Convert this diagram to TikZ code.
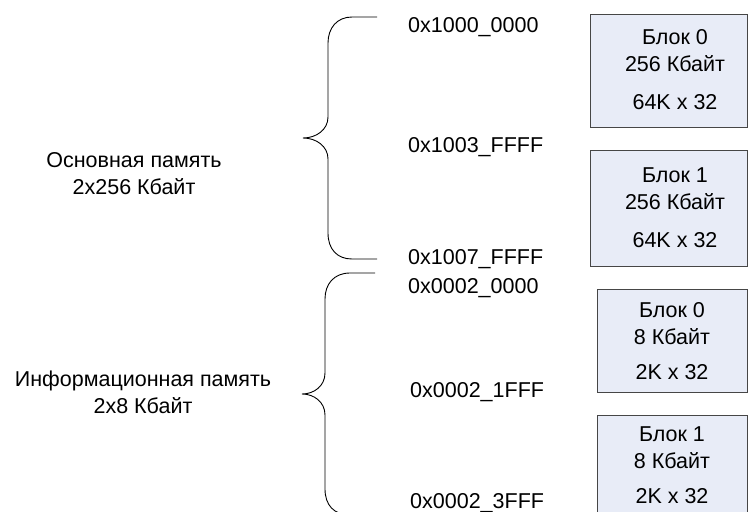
\documentclass[tikz,border=0pt]{standalone}
\usepackage{fontspec}
\setmainfont{Liberation Sans}
\usepackage{xcolor}
\usetikzlibrary{positioning}

\definecolor{blokfill}{RGB}{232,236,247}
\definecolor{blokline}{RGB}{70,70,70}

\begin{document}
\begin{tikzpicture}[x=1pt,y=-1pt,
    every node/.style={font=\fontsize{21.5}{27}\selectfont, inner sep=0pt},
    blok/.style={draw=blokline, fill=blokfill, line width=1pt, anchor=north west},
    bloktxt/.style={align=center, anchor=north},
    adr/.style={anchor=base west},
    oblast/.style={align=center, anchor=north},
    skobka/.style={line width=0.9pt}]
        % Поле рисунка
        \clip (0,0) rectangle (748,512);

        % Блоки основной памяти
        \node[blok, minimum width=157pt, minimum height=113pt] (osn0) at (590,14) {};
        \node[blok, minimum width=157pt, minimum height=116pt] (osn1) at (590,150) {};
        \node[bloktxt] (osn0t) at (675,29) {Блок 0\\256 Кбайт\\[11pt]64K x 32};
        \node[bloktxt] (osn1t) at (675,168) {Блок 1\\256 Кбайт\\[11pt]64K x 32};

        % Блоки информационной памяти
        \node[blok, minimum width=150pt, minimum height=103pt] (inf0) at (597,289) {};
        \node[blok, minimum width=150pt, minimum height=103pt] (inf1) at (597,415) {};
        \node[bloktxt] (inf0t) at (672,302) {Блок 0\\8 Кбайт\\[8pt]2K x 32};
        \node[bloktxt] (inf1t) at (672,427) {Блок 1\\8 Кбайт\\[8pt]2K x 32};

        % Адреса
        \node[adr] (a1) at (408,32) {0x1000\_0000};
        \node[adr] (a2) at (408,152) {0x1003\_FFFF};
        \node[adr] (a3) at (408,264) {0x1007\_FFFF};
        \node[adr] (a4) at (408,293) {0x0002\_0000};
        \node[adr] (a5) at (410,397) {0x0002\_1FFF};
        \node[adr] (a6) at (410,508) {0x0002\_3FFF};

        % Скобки
        \draw[skobka] (377,17) -- (352,17) .. controls (337,17) and (328,28) .. (328,43)
            -- (328,117) .. controls (328,130) and (316,138) .. (303,138)
            .. controls (316,138) and (328,146) .. (328,159)
            -- (328,233) .. controls (328,249) and (337,259) .. (352,259) -- (377,259);
        \draw[skobka] (375,273) -- (350,273) .. controls (334,273) and (325,284) .. (325,299)
            -- (325,373) .. controls (325,386) and (314,394) .. (302,394)
            .. controls (314,394) and (325,402) .. (325,415)
            -- (325,489) .. controls (325,505) and (334,515) .. (350,515) -- (375,515);

        % Подписи областей
        \node[oblast] (osn) at (134,152) {Основная память\\2x256 Кбайт};
        \node[oblast] (inf) at (143,371) {Информационная память\\2x8 Кбайт};
    \end{tikzpicture}
\end{document}
